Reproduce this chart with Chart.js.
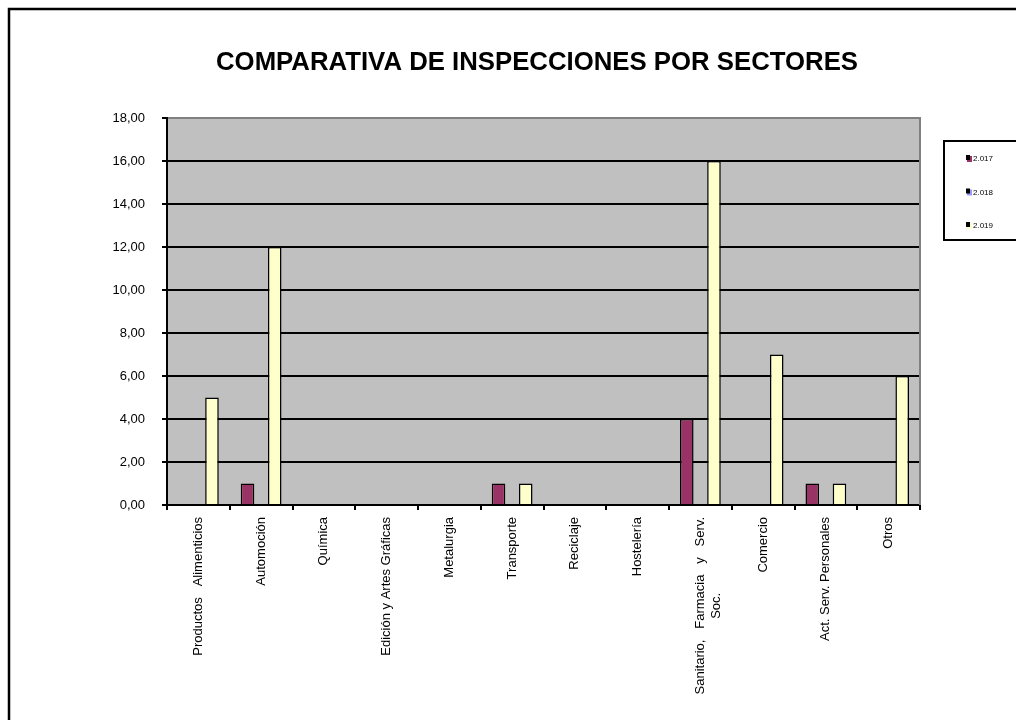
<!DOCTYPE html>
<html>
<head>
<meta charset="utf-8">
<script src="https://cdn.jsdelivr.net/npm/chart.js@4/dist/chart.umd.min.js"></script>
<style>
  html, body { margin: 0; padding: 0; background: #fff; }
  #myChart { display: block; }
</style>
</head>
<body>
<canvas id="myChart" width="1016" height="720"></canvas>
<script>
// Values
var chartTitle = "COMPARATIVA DE INSPECCIONES POR SECTORES";
// spacing inside labels mimics the justified text of the original
var sectors = [
  "Productos   Alimenticios", "Automoción", "Química", "Edición y Artes Gráficas",
  "Metalurgia", "Transporte", "Reciclaje", "Hostelería",
  ["Sanitario,   Farmacia   y   Serv.", "Soc."], "Comercio", "Act. Serv. Personales", "Otros"
];
var years = ["2.017", "2.018", "2.019"];
var values2017 = [0, 1, 0, 0, 0, 1, 0, 0, 4, 0, 1, 0];
var values2018 = [0, 0, 0, 0, 0, 0, 0, 0, 0, 0, 0, 0];
var values2019 = [5, 12, 0, 0, 0, 1, 0, 0, 16, 7, 1, 6];
var yMin = 0, yMax = 18, yStep = 2;

var FONT = "'Liberation Sans', Arial, sans-serif";
var colors = ["#993366", "#9999FF", "#FFFFCC"];

// measure helper so the short second line of a label sits centred
var measureCtx = document.createElement("canvas").getContext("2d");
measureCtx.font = "13px " + FONT;
function centerLines(lines) {
  if (!Array.isArray(lines)) return lines;
  var widths = lines.map(function (l) { return measureCtx.measureText(l).width; });
  var maxW = Math.max.apply(null, widths);
  var spaceW = measureCtx.measureText(" ").width;
  return lines.map(function (l, i) {
    var n = Math.round((maxW - widths[i]) / 2 / spaceW);
    return l + " ".repeat(n);
  });
}

// background, frame, title and legend box
var decorPlugin = {
  id: "decor",
  beforeDraw: function (chart) {
    var c = chart.ctx, a = chart.chartArea;
    c.save();
    c.fillStyle = "#fff";
    c.fillRect(0, 0, chart.width, chart.height);
    c.fillStyle = "#C0C0C0";
    c.fillRect(a.left, a.top, a.right - a.left, a.bottom - a.top);
    c.restore();
  },
  afterDraw: function (chart) {
    var c = chart.ctx, a = chart.chartArea;
    c.save();
    // right edge of plot area
    c.strokeStyle = "#808080";
    c.lineWidth = 2;
    c.beginPath();
    c.moveTo(a.right, a.top - 1);
    c.lineTo(a.right, a.bottom);
    c.stroke();
    // outer frame (only left and top show in the reference)
    c.strokeStyle = "#000";
    c.lineWidth = 2.5;
    c.beginPath();
    c.moveTo(9, chart.height + 5);
    c.lineTo(9, 9);
    c.lineTo(chart.width + 5, 9);
    c.stroke();
    // title
    c.fillStyle = "#000";
    c.font = "bold 26px " + FONT;
    c.textAlign = "center";
    c.textBaseline = "alphabetic";
    c.fillText(chartTitle, 537, 70, 642);
    // legend
    c.lineWidth = 2;
    c.strokeRect(944, 141, 100, 99);
    c.font = "8px " + FONT;
    c.textAlign = "left";
    c.textBaseline = "middle";
    chart.data.datasets.forEach(function (ds, i) {
      var y = 158 + i * 33.5;
      c.fillStyle = ds.backgroundColor;
      c.fillRect(967, y - 2, 5, 6);
      c.fillStyle = "#000";
      c.fillRect(966, y - 3, 4, 5);
      c.fillText(ds.label, 973, y + 1);
    });
    c.restore();
  }
};

var ctx = document.getElementById("myChart").getContext("2d");
var myChart = new Chart(ctx, {
  type: "bar",
  data: {
    labels: sectors,
    datasets: [
      { label: years[0], data: values2017, backgroundColor: colors[0] },
      { label: years[1], data: values2018, backgroundColor: colors[1] },
      { label: years[2], data: values2019, backgroundColor: colors[2] }
    ]
  },
  options: {
    responsive: false,
    animation: false,
    layout: { padding: { left: 0, right: 96, top: 118, bottom: 0 } },
    datasets: {
      bar: {
        borderColor: "#000",
        borderWidth: 1.5,
        barPercentage: 1,
        categoryPercentage: 0.65
      }
    },
    plugins: {
      legend: { display: false },
      title: { display: false },
      tooltip: { enabled: false }
    },
    scales: {
      x: {
        afterFit: function (scale) { scale.height = 215; },
        grid: {
          offset: true,
          drawOnChartArea: false,
          drawTicks: true,
          tickLength: 5,
          color: "#000",
          lineWidth: 2
        },
        border: { display: true, color: "#000", width: 2 },
        ticks: {
          autoSkip: false,
          maxRotation: 90,
          minRotation: 90,
          padding: 7,
          color: "#000",
          font: { family: FONT, size: 13 },
          callback: function (value, index) {
            return centerLines(sectors[index]);
          }
        }
      },
      y: {
        min: yMin,
        max: yMax,
        afterFit: function (scale) { scale.width = 167; },
        grid: {
          color: function (c) { return c.tick && c.tick.value === yMax ? "#808080" : "#000"; },
          tickColor: "#000",
          lineWidth: 2,
          tickLength: 5
        },
        border: { display: true, color: "#000", width: 2 },
        ticks: {
          stepSize: yStep,
          padding: 17,
          color: "#000",
          font: { family: FONT, size: 13 },
          callback: function (v) { return v.toFixed(2).replace(".", ","); }
        }
      }
    }
  },
  plugins: [decorPlugin]
});
</script>
</body>
</html>
